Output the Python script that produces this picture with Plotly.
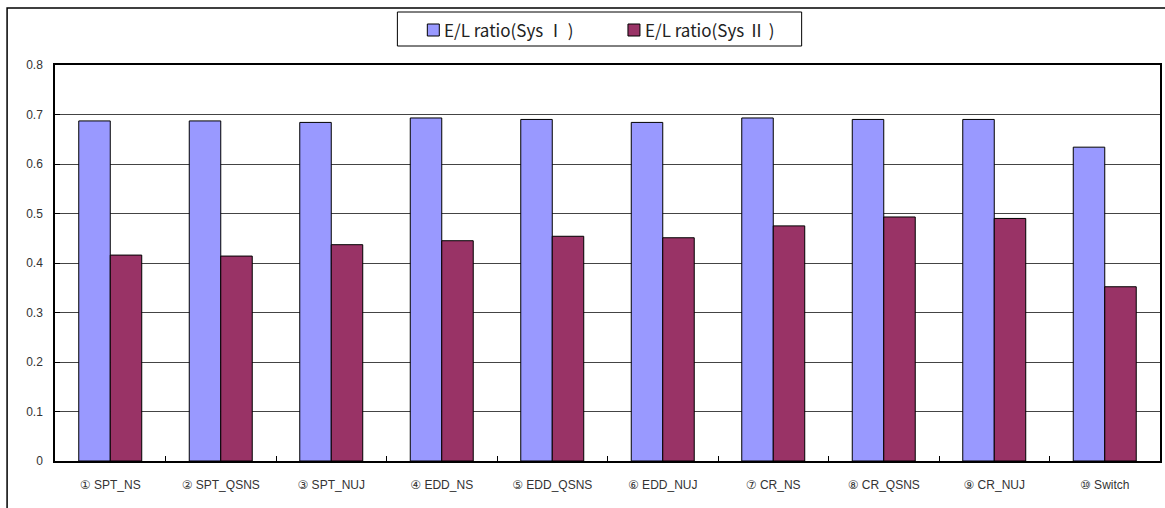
import plotly.graph_objects as go

categories = ["① SPT_NS", "② SPT_QSNS", "③ SPT_NUJ", "④ EDD_NS", "⑤ EDD_QSNS",
              "⑥ EDD_NUJ", "⑦ CR_NS", "⑧ CR_QSNS", "⑨ CR_NUJ", "⑩ Switch"]
sys1 = [0.687, 0.687, 0.684, 0.693, 0.690, 0.684, 0.693, 0.690, 0.690, 0.634]
sys2 = [0.416, 0.414, 0.437, 0.445, 0.454, 0.451, 0.475, 0.493, 0.490, 0.352]
series_names = ["E/L ratio(Sys Ⅰ )", "E/L ratio(Sys Ⅱ )"]
y_ticks = [0, 0.1, 0.2, 0.3, 0.4, 0.5, 0.6, 0.7, 0.8]
y_labels = ["0", "0.1", "0.2", "0.3", "0.4", "0.5", "0.6", "0.7", "0.8"]

FONT = "Liberation Sans, Arial, DejaVu Sans, sans-serif"
LEGEND_FONT = "Noto Sans CJK KR, Liberation Sans, sans-serif"
COLORS = ["#9999FF", "#993366"]

# plot-area geometry in pixels (used to place the boxed legend in paper units)
W, H = 1165, 508
ML, MR, MT, MB = 55, 3, 65, 47
PW, PH = W - ML - MR, H - MT - MB


def px_x(px):
    return (px - ML) / PW


def px_y(py):
    return (H - MB - py) / PH


fig = go.Figure()
for vals, name, col in zip([sys1, sys2], series_names, COLORS):
    fig.add_trace(go.Bar(x=categories, y=vals, name=name, showlegend=False,
                         marker=dict(color=col, line=dict(color="black", width=1))))

fig.update_layout(
    width=W, height=H,
    margin=dict(l=ML, r=MR, t=MT, b=MB),
    paper_bgcolor="white", plot_bgcolor="white",
    barmode="group", bargap=0.43, bargroupgap=0,
    font=dict(family=FONT, color="#333333", size=12),
    xaxis=dict(type="category", tickson="boundaries", ticks="inside", ticklen=5,
               tickcolor="black", showline=True, linecolor="black", linewidth=1.5,
               mirror=True, showgrid=False, ticklabelstandoff=12,
               tickfont=dict(size=12, color="#333333")),
    yaxis=dict(range=[0, 0.8], tickvals=y_ticks, ticktext=y_labels,
               ticks="inside", ticklen=5, tickcolor="black",
               showline=True, linecolor="black", linewidth=1.5, mirror=True,
               showgrid=True, gridcolor="#444444", gridwidth=1, ticklabelstandoff=8,
               zeroline=False, tickfont=dict(size=12, color="#333333")),
)

# outer chart frame
fig.add_shape(type="rect", xref="paper", yref="paper",
              x0=px_x(7), x1=px_x(1175), y0=px_y(530), y1=px_y(8),
              line=dict(color="black", width=1.5), fillcolor="rgba(0,0,0,0)", layer="below")

# boxed legend above the plot
fig.add_shape(type="rect", xref="paper", yref="paper",
              x0=px_x(398), x1=px_x(803), y0=px_y(46), y1=px_y(12),
              line=dict(color="black", width=1), fillcolor="white")
for sx, tx, name, col in zip([428, 629], [443, 644], series_names, COLORS):
    fig.add_shape(type="rect", xref="paper", yref="paper",
                  x0=px_x(sx), x1=px_x(sx + 12), y0=px_y(36), y1=px_y(24),
                  line=dict(color="black", width=1), fillcolor=col)
    fig.add_annotation(x=px_x(tx), y=px_y(30), xref="paper", yref="paper",
                       text=name, showarrow=False, xanchor="left", yanchor="middle",
                       font=dict(family=LEGEND_FONT, size=17, color="#222222"))

fig.write_html("out.html")
